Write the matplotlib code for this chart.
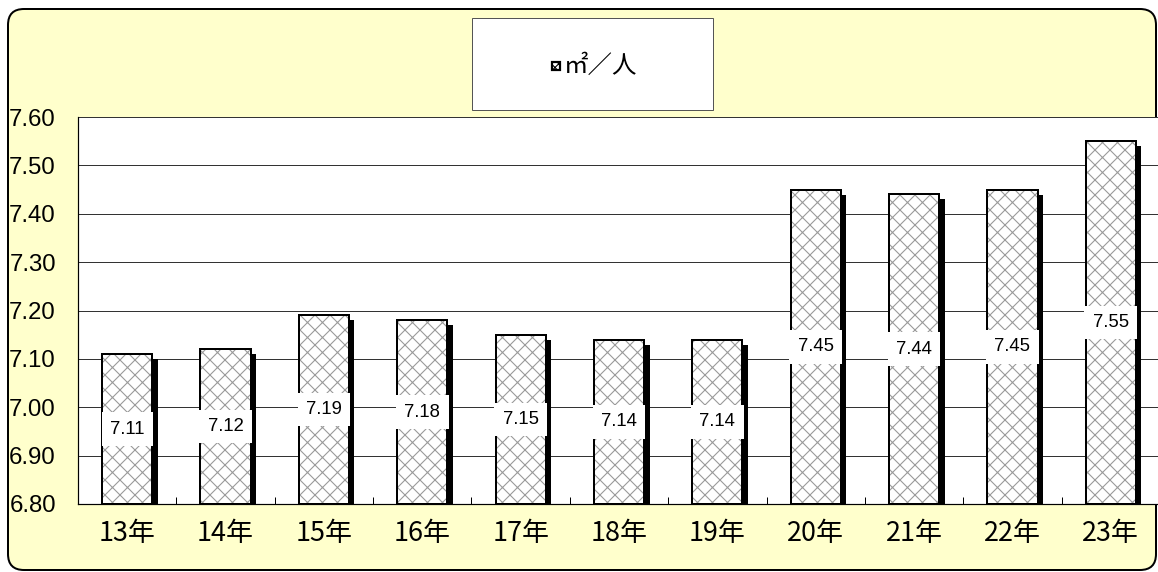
import matplotlib
matplotlib.use("Agg")
import matplotlib.pyplot as plt
from matplotlib.patches import FancyBboxPatch, Rectangle
from matplotlib.transforms import ScaledTranslation, IdentityTransform

categories = ["13年", "14年", "15年", "16年", "17年", "18年", "19年", "20年", "21年", "22年", "23年"]
values = [7.11, 7.12, 7.19, 7.18, 7.15, 7.14, 7.14, 7.45, 7.44, 7.45, 7.55]
value_labels = ["7.11", "7.12", "7.19", "7.18", "7.15", "7.14", "7.14", "7.45", "7.44", "7.45", "7.55"]
series_name = "㎡／人"
y_ticks = [6.80, 6.90, 7.00, 7.10, 7.20, 7.30, 7.40, 7.50, 7.60]
y_tick_labels = ["6.80", "6.90", "7.00", "7.10", "7.20", "7.30", "7.40", "7.50", "7.60"]
y_min, y_max = 6.80, 7.60

DPI = 90
W, H = 1158, 572


def pt(px):
    return px * 72.0 / DPI


plt.rcParams['hatch.linewidth'] = pt(1.1)
plt.rcParams['font.family'] = ['Liberation Sans', 'Noto Sans CJK JP', 'DejaVu Sans']

fig = plt.figure(figsize=(W / DPI, H / DPI), dpi=DPI, facecolor='white')

# yellow rounded frame (pixel coordinates)
frame = FancyBboxPatch((8, 2), 1148, 561, boxstyle="round,pad=0,rounding_size=16",
                       transform=IdentityTransform(), facecolor='#FFFFCC',
                       edgecolor='black', linewidth=pt(2), zorder=-5)
fig.patches.append(frame)

ax = fig.add_axes([78 / W, (H - 504) / H, 1082 / W, 387 / H])
ax.set_zorder(1)
ax.set_facecolor('white')
ax.set_xlim(-0.5, len(categories) - 0.5)
ax.set_ylim(y_min, y_max)

x = list(range(len(categories)))
bw = 0.51
heights = [v - y_min for v in values]

# shadows
shadow_tr = ax.transData + ScaledTranslation(5.5 / DPI, -5 / DPI, fig.dpi_scale_trans)
for xi, h in zip(x, heights):
    r = Rectangle((xi - bw / 2, y_min), bw, h, facecolor='black', edgecolor='none',
                  transform=shadow_tr, zorder=2)
    ax.add_patch(r)

# hatched bars
ax.bar(x, heights, bottom=y_min, width=bw, color='white', edgecolor='#9a9a9a',
       linewidth=0, hatch='xx', zorder=3)
ax.bar(x, heights, bottom=y_min, width=bw, color='none', edgecolor='black',
       linewidth=pt(2), zorder=4)

# value labels
for xi, v, lab in zip(x, values, value_labels):
    ax.text(xi, (y_min + v) / 2, lab, ha='center', va='center', fontsize=pt(18.5),
            family=['Liberation Sans'], color='black', zorder=6,
            bbox=dict(boxstyle='square,pad=0.45', facecolor='white', edgecolor='none'))

# grid
ax.set_yticks(y_ticks)
ax.set_yticklabels(y_tick_labels, fontsize=pt(24), family=['Liberation Sans'])
ax.yaxis.grid(True, color='#333333', linewidth=pt(1), zorder=1)
ax.set_axisbelow(True)
ax.tick_params(axis='y', length=0, pad=pt(22))

ax.set_xticks([i + 0.5 for i in range(len(categories) - 1)], minor=True)
ax.set_xticks(x)
ax.set_xticklabels(categories, fontsize=pt(27), family=['Noto Sans CJK JP'])
ax.tick_params(axis='x', which='major', length=0, pad=pt(16))
ax.tick_params(axis='x', which='minor', direction='in', length=pt(7), width=pt(1), color='black')

for s in ['top', 'right']:
    ax.spines[s].set_visible(False)
for s in ['left', 'bottom']:
    ax.spines[s].set_color('black')
    ax.spines[s].set_linewidth(pt(1.2))

# legend box
leg = Rectangle((472, H - 110), 241, 92, transform=IdentityTransform(),
                facecolor='white', edgecolor='#555555', linewidth=pt(1), zorder=5)
fig.patches.append(leg)
sw = Rectangle((552, H - 70), 8, 8, transform=IdentityTransform(),
               facecolor='white', edgecolor='black', linewidth=pt(2.2), hatch='xxxx', zorder=6)
fig.patches.append(sw)
fig.text(564 / W, (H - 66) / H, series_name, ha='left', va='center', fontsize=pt(24.5),
         family=['Noto Sans CJK JP', 'DejaVu Sans'], color='black', zorder=7)

fig.savefig('out.png', dpi=DPI, facecolor='white')
